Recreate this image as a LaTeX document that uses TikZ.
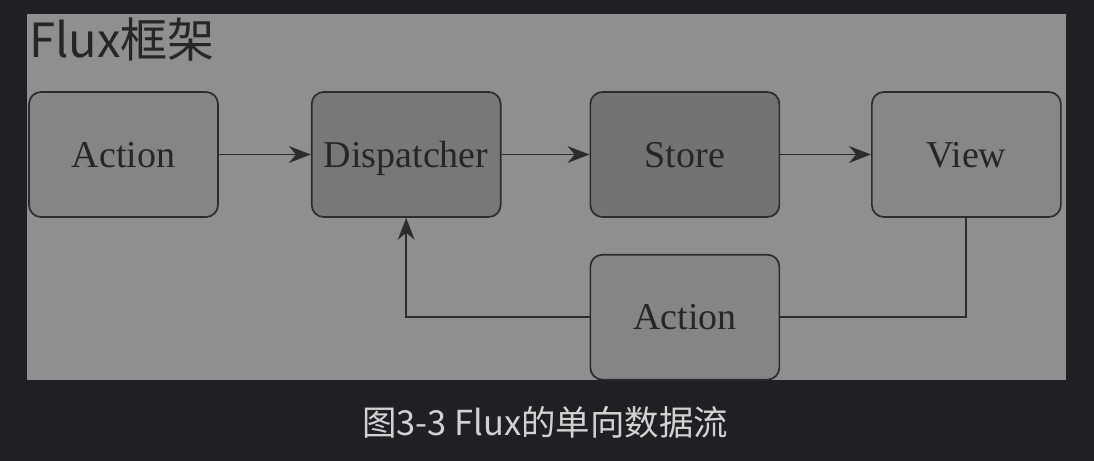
\documentclass[tikz,border=0pt]{standalone}
\usepackage{fontspec}
\setmainfont{Liberation Serif}
\newfontfamily\cjk{Noto Sans CJK SC}
\usetikzlibrary{arrows.meta,positioning}
\definecolor{pagebg}{HTML}{1F2023}
\definecolor{panelbg}{HTML}{8F8F8F}
\definecolor{edgecol}{HTML}{2C2C2C}
\definecolor{capcol}{HTML}{D2D2D2}

\begin{document}
\begin{tikzpicture}[node distance=2.3cm,
box/.style={
rectangle,
rounded corners=0.3cm,
draw=edgecol,
line width=1.2pt,
minimum width=4.725cm,
minimum height=3.125cm,
text height=0.63cm,
text depth=0pt,
font=\fontsize{27}{30}\selectfont,
text=black!85
},
to/.style={-{Stealth[length=0.55cm,width=0.42cm,inset=0.18cm]},draw=edgecol,line width=1.3pt},
]
% page and grey panel
\useasboundingbox[fill=pagebg] (0,0) rectangle (27.35,-11.525);
\fill[panelbg] (0.675,-0.35) rectangle (26.65,-9.5);
\node (title) [anchor=west,inner sep=0pt,text=black!85,font=\cjk\fontsize{33.5}{36}\selectfont] at (0.72,-1.0) {Flux框架};

\node (action) [box,fill=black!48] at (3.0875,-3.8625) {Action};
\node (dispatcher) [box,fill=black!53,right=of action] {Dispatcher};
\node (store) [box,fill=black!55,right=2.2cm of dispatcher] {Store};
\node (view) [box,fill=black!47,right=2.27cm of store] {View};
\node (action2) [box,fill=black!48,below=0.9cm of store] {Action};

\draw[to] (action) -- (dispatcher);
\draw[to] (dispatcher) -- (store);
\draw[to] (store) -- (view);
\draw[draw=edgecol,line width=1.3pt] (view.south) |- (action2.east);
\draw[to] (action2.west) -| (dispatcher.south);

\node (caption) [text=capcol,font=\cjk\fontsize{24.5}{28}\selectfont] at (13.625,-10.55) {图3-3 Flux的单向数据流};
\end{tikzpicture}
\end{document}
